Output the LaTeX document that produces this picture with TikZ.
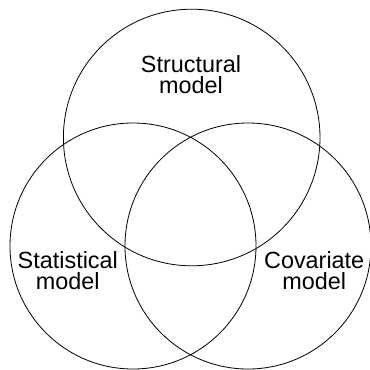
\documentclass[tikz,border=0pt]{standalone}
\usepackage{fontspec}
\setmainfont{Liberation Sans}
\begin{document}
\begin{tikzpicture}[x=1pt,y=-1pt,
  ring/.style={draw=black,line width=0.8pt},
  lbl/.style={align=center,inner sep=0pt,anchor=base,font=\fontsize{23.4}{20.8}\selectfont}]
\useasboundingbox (0,0) rectangle (370,370);
\draw[ring] (191.7,137.5) circle[radius=128.3];
\draw[ring] (133,246) circle[radius=123];
\draw[ring] (248,246) circle[radius=123];
\node[lbl] (structural) at (191,93.3) {Structural\\model};
\node[lbl] (statistical) at (67.8,289.2) {Statistical\\model};
\node[lbl] (covariate) at (314.2,289.2) {Covariate\\model};
\end{tikzpicture}
\end{document}
